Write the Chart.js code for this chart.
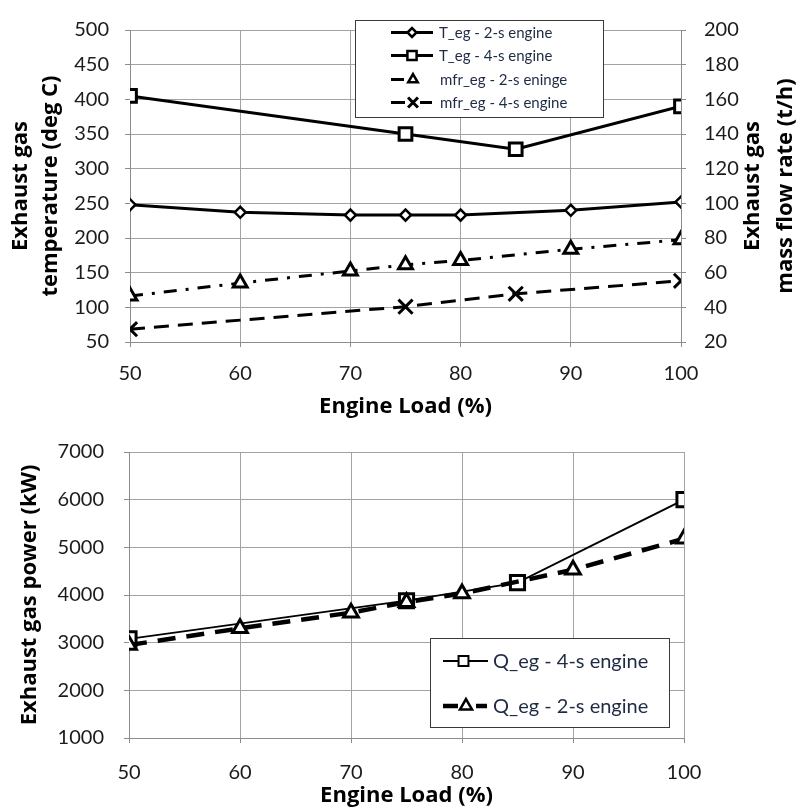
<!DOCTYPE html>
<html><head><meta charset="utf-8">
<script src="https://cdn.jsdelivr.net/npm/chart.js@4.4.1/dist/chart.umd.min.js"></script>
<style>
html,body{margin:0;padding:0;background:#fff;}
#top{position:absolute;left:0;top:0;width:798px;height:420px;}
#bot{position:absolute;left:0;top:420px;width:798px;height:389px;}
</style></head><body>
<div id="top"><canvas id="c1" width="798" height="420"></canvas></div>
<div id="bot"><canvas id="c2" width="798" height="389"></canvas></div>
<script>
// ---------- data ----------
const loadTicks = [50, 60, 70, 80, 90, 100];
const tempTicks = [50, 100, 150, 200, 250, 300, 350, 400, 450, 500];
const mfrTicks = [20, 40, 60, 80, 100, 120, 140, 160, 180, 200];
const powerTicks = [1000, 2000, 3000, 4000, 5000, 6000, 7000];

const tempLoad2s = [50, 60, 70, 75, 80, 90, 100];
const temp2s = [248, 237, 233, 233, 233, 240, 252];
const tempLoad4s = [50, 75, 85, 100];
const temp4s = [405, 350, 328, 390];

const mfrLoad2s = [50, 60, 70, 75, 80, 90, 100];
const mfr2s = [46.5, 54, 61, 64.5, 67, 73.5, 79];
const mfrLoad4s = [50, 75, 85, 100];
const mfr4s = [27.4, 40.4, 47.8, 55.3];

const qLoad4s = [50, 75, 85, 100];
const q4s = [3080, 3880, 4260, 6000];
const qLoad2s = [50, 60, 70, 75, 80, 90, 100];
const q2s = [2950, 3300, 3630, 3850, 4030, 4530, 5180];

const names = {
  t2: 'T_eg - 2-s engine', t4: 'T_eg - 4-s engine',
  m2: 'mfr_eg - 2-s eninge', m4: 'mfr_eg - 4-s engine',
  q4: 'Q_eg - 4-s engine', q2: 'Q_eg - 2-s engine'
};
const axisTitles = {
  x: 'Engine Load (%)',
  temp: ['Exhaust gas', 'temperature (deg C)'],
  mfr: ['Exhaust gas', 'mass flow rate (t/h)'],
  power: 'Exhaust gas power (kW)'
};

const pts = (xs, ys) => xs.map((x, i) => ({x, y: ys[i]}));

// ---------- style ----------
const FONT = 'Lato';
const TFONT = '"Open Sans"';
const GRID = '#a3a3a3';
const AXIS = '#8c8c8c';
const TXT = '#1b1b1b';
const LEGTXT = '#1f2a44';

// ---------- plugins ----------
const boxLegend = {
  id: 'boxLegend',
  afterDraw(chart, args, o) {
    if (!o || !o.box) return;
    const ctx = chart.ctx;
    const [bx, by, bw, bh] = o.box;
    ctx.save();
    ctx.fillStyle = '#fff';
    ctx.fillRect(bx, by, bw, bh);
    ctx.strokeStyle = '#3a3a3a';
    ctx.lineWidth = 1;
    ctx.strokeRect(bx + 0.5, by + 0.5, bw, bh);
    o.rows.forEach(row => {
      const ds = chart.data.datasets[row.ds];
      ctx.save();
      ctx.strokeStyle = ds.borderColor;
      ctx.lineWidth = row.lw || ds.borderWidth;
      ctx.lineCap = 'butt';
      row.segs.forEach(s => {
        ctx.beginPath(); ctx.moveTo(s[0], row.y); ctx.lineTo(s[1], row.y); ctx.stroke();
      });
      ctx.fillStyle = '#fff';
      ctx.strokeStyle = ds.pointBorderColor || '#000';
      ctx.lineWidth = row.mbw || ds.pointBorderWidth;
      Chart.helpers.drawPoint(ctx, {pointStyle: ds.pointStyle, rotation: 0, radius: row.r, borderWidth: row.mbw || ds.pointBorderWidth}, row.mx, row.y);
      ctx.restore();
      ctx.fillStyle = LEGTXT;
      ctx.font = o.font;
      ctx.textAlign = 'left';
      ctx.textBaseline = 'middle';
      ctx.fillText(ds.label, row.tx, row.y + 1);
    });
    ctx.restore();
  }
};
const rightTitle = {
  id: 'rightTitle',
  afterDraw(chart, args, o) {
    if (!o || !o.lines) return;
    const ctx = chart.ctx;
    const ca = chart.chartArea;
    const cy = (ca.top + ca.bottom) / 2;
    ctx.save();
    ctx.font = o.font;
    ctx.fillStyle = '#000';
    ctx.textAlign = 'center';
    ctx.textBaseline = 'middle';
    o.lines.forEach((t, i) => {
      ctx.save();
      ctx.translate(o.xs[i], cy);
      ctx.rotate(-Math.PI / 2);
      ctx.fillText(t, 0, 0);
      ctx.restore();
    });
    ctx.restore();
  }
};

const tickFont = {family: FONT, size: 20};
const titleFont = {family: TFONT, size: 22, weight: 'bold', lineHeight: 1.2};
const plain = v => String(v);

// ---------- top chart ----------
new Chart(document.getElementById('c1'), {
  type: 'line',
  data: {
    datasets: [
      {label: names.t2, data: pts(tempLoad2s, temp2s), yAxisID: 'y', borderColor: '#000', borderWidth: 3,
       pointStyle: 'rectRot', pointRadius: 5.5, pointBorderWidth: 2.5, pointBackgroundColor: '#fff', pointBorderColor: '#000'},
      {label: names.t4, data: pts(tempLoad4s, temp4s), yAxisID: 'y', borderColor: '#000', borderWidth: 3,
       pointStyle: 'rect', pointRadius: 9, pointBorderWidth: 3, pointBackgroundColor: '#fff', pointBorderColor: '#000'},
      {label: names.m2, data: pts(mfrLoad2s, mfr2s), yAxisID: 'y2', borderColor: '#000', borderWidth: 3, borderDash: [13, 9, 3, 9],
       pointStyle: 'triangle', pointRadius: 8, pointBorderWidth: 3, pointBackgroundColor: '#fff', pointBorderColor: '#000'},
      {label: names.m4, data: pts(mfrLoad4s, mfr4s), yAxisID: 'y2', borderColor: '#000', borderWidth: 3, borderDash: [15, 9],
       pointStyle: 'crossRot', pointRadius: 10, pointBorderWidth: 3, pointBackgroundColor: '#fff', pointBorderColor: '#000'}
    ]
  },
  options: {
    responsive: false, animation: false,
    layout: {padding: {top: 18, left: 0, right: 0, bottom: 0}},
    elements: {line: {tension: 0, fill: false}},
    plugins: {
      legend: {display: false}, tooltip: {enabled: false},
      boxLegend: {
        box: [355, 20, 248, 97],
        font: '15px Lato',
        rows: [
          {ds: 0, y: 32.5, segs: [[391, 433]], mx: 412, r: 4.5, mbw: 2.5, tx: 439},
          {ds: 1, y: 55.5, segs: [[391, 433]], mx: 412, r: 6.5, mbw: 2.5, tx: 439},
          {ds: 2, y: 79.5, segs: [[391, 404]], mx: 413, r: 5.5, mbw: 2.5, tx: 440},
          {ds: 3, y: 102.5, segs: [[391, 405], [420, 432]], mx: 413, r: 7, mbw: 3, tx: 440}
        ]
      },
      rightTitle: {lines: axisTitles.mfr, xs: [753, 786], font: 'bold 22px "Open Sans"'}
    },
    scales: {
      x: {
        type: 'linear', min: 50, max: 100,
        afterBuildTicks: s => { s.ticks = loadTicks.map(v => ({value: v})); },
        afterFit: s => { s.height = 78; },
        grid: {color: GRID, lineWidth: 1, tickLength: 5, tickColor: AXIS},
        border: {color: AXIS, width: 1},
        ticks: {font: tickFont, color: TXT, padding: 15, maxRotation: 0, callback: plain},
        title: {display: true, text: axisTitles.x, font: titleFont, color: '#000', padding: {top: 0, bottom: 0}}
      },
      y: {
        position: 'left', min: 50, max: 500,
        afterBuildTicks: s => { s.ticks = tempTicks.map(v => ({value: v})); },
        afterFit: s => { s.width = 130; },
        grid: {color: GRID, lineWidth: 1, tickLength: 5, tickColor: AXIS},
        border: {color: AXIS, width: 1},
        ticks: {font: tickFont, color: TXT, padding: 16, callback: plain},
        title: {display: true, text: axisTitles.temp, font: {family: TFONT, size: 22, weight: 'bold', lineHeight: 1.36}, color: '#000', padding: {top: 6, bottom: 0}}
      },
      y2: {
        position: 'right', min: 20, max: 200,
        afterBuildTicks: s => { s.ticks = mfrTicks.map(v => ({value: v})); },
        afterFit: s => { s.width = 117; },
        grid: {drawOnChartArea: false, tickLength: 5, tickColor: AXIS},
        border: {color: AXIS, width: 1},
        ticks: {font: tickFont, color: TXT, padding: 18, callback: plain}
      }
    }
  },
  plugins: [boxLegend, rightTitle]
});

// ---------- bottom chart ----------
new Chart(document.getElementById('c2'), {
  type: 'line',
  data: {
    datasets: [
      {label: names.q4, data: pts(qLoad4s, q4s), order: 1, borderColor: '#000', borderWidth: 1.8,
       pointStyle: 'rect', pointRadius: 10, pointBorderWidth: 3, pointBackgroundColor: '#fff', pointBorderColor: '#000'},
      {label: names.q2, data: pts(qLoad2s, q2s), order: 0, borderColor: '#000', borderWidth: 4.5, borderDash: [18, 11],
       pointStyle: 'triangle', pointRadius: 8.5, pointBorderWidth: 3, pointBackgroundColor: '#fff', pointBorderColor: '#000'}
    ]
  },
  options: {
    responsive: false, animation: false,
    layout: {padding: {top: 18, left: 0, right: 114, bottom: 0}},
    elements: {line: {tension: 0, fill: false}},
    plugins: {
      legend: {display: false}, tooltip: {enabled: false},
      boxLegend: {
        box: [430, 218, 239, 89],
        font: '20px Lato',
        rows: [
          {ds: 0, y: 241, segs: [[443, 488]], mx: 463.5, r: 7, mbw: 2, lw: 1.8, tx: 493},
          {ds: 1, y: 286, segs: [[443, 458], [476, 487]], mx: 466, r: 7, mbw: 2.5, lw: 4.5, tx: 493}
        ]
      }
    },
    scales: {
      x: {
        type: 'linear', min: 50, max: 100,
        afterBuildTicks: s => { s.ticks = loadTicks.map(v => ({value: v})); },
        afterFit: s => { s.height = 71; },
        grid: {color: GRID, lineWidth: 1, tickLength: 5, tickColor: AXIS},
        border: {color: AXIS, width: 1},
        ticks: {font: tickFont, color: TXT, padding: 18, maxRotation: 0, callback: plain},
        title: {display: true, text: axisTitles.x, font: titleFont, color: '#000', padding: {top: 0, bottom: 0}}
      },
      y: {
        position: 'left', min: 1000, max: 7000,
        afterBuildTicks: s => { s.ticks = powerTicks.map(v => ({value: v})); },
        afterFit: s => { s.width = 129; },
        grid: {color: GRID, lineWidth: 1, tickLength: 5, tickColor: AXIS},
        border: {color: AXIS, width: 1},
        ticks: {font: tickFont, color: TXT, padding: 20, callback: plain},
        title: {display: true, text: axisTitles.power, font: titleFont, color: '#000', padding: {top: 17, bottom: 0}}
      }
    }
  },
  plugins: [boxLegend]
});
</script>
</body></html>
